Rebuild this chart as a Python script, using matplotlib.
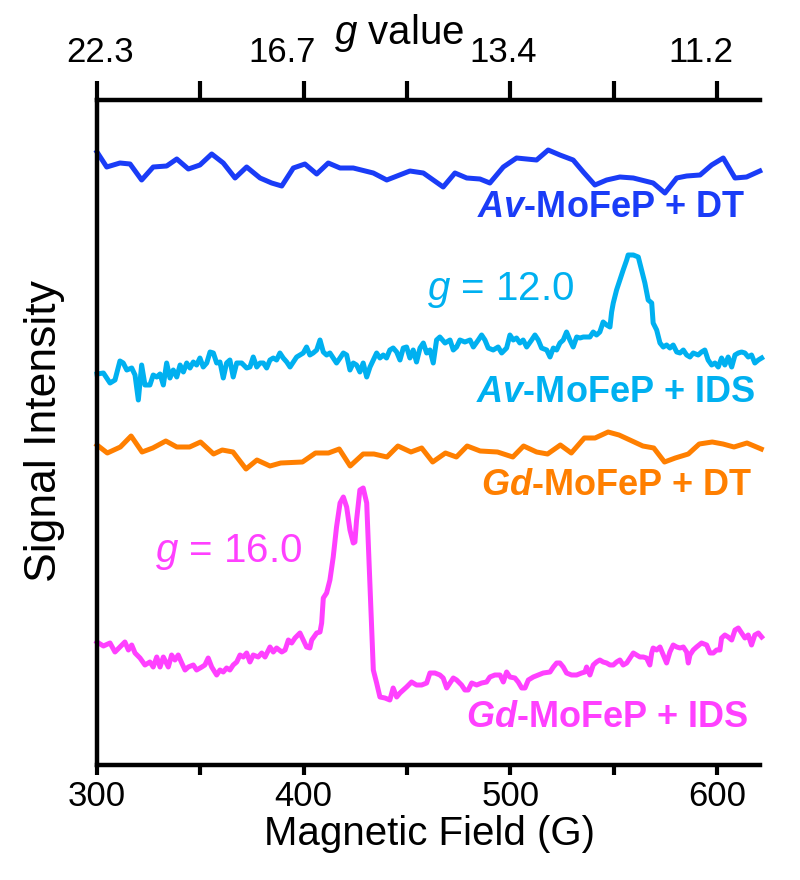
import matplotlib
matplotlib.use("Agg")
import matplotlib.pyplot as plt
import matplotlib.transforms as mtransforms

plt.rcParams["font.family"] = ["Liberation Sans", "DejaVu Sans"]
plt.rcParams["mathtext.fontset"] = "custom"
plt.rcParams["mathtext.rm"] = "Liberation Sans"
plt.rcParams["mathtext.it"] = "Liberation Sans:italic"
plt.rcParams["mathtext.bf"] = "Liberation Sans:italic:bold"

# Av-MoFeP + DT (blue)
field_av_dt = [300.0, 304.7, 311.1, 316.0, 321.6, 327.2, 333.7, 338.6, 344.2, 349.8,
               355.5, 361.1, 366.8, 372.4, 378.9, 384.5, 389.4, 395.0, 400.6, 406.3,
               411.9, 417.6, 424.0, 433.7, 440.2, 451.4, 457.9, 467.5, 473.2, 478.9,
               485.3, 490.1, 496.6, 503.0, 512.7, 518.3, 524.0, 530.4, 535.3, 540.9,
               546.6, 553.0, 559.5, 569.1, 574.8, 580.5, 585.3, 591.8, 597.4, 603.0,
               608.7, 614.3, 620.7]
signal_av_dt = [613, 598, 602, 601, 585, 598, 599, 606, 596, 600,
                611, 602, 587, 598, 587, 582, 579, 597, 601, 591,
                602, 597, 597, 592, 585, 594, 592, 578, 592, 587,
                586, 582, 598, 607, 605, 615, 610, 605, 593, 580,
                585, 588, 587, 582, 572, 587, 589, 590, 600, 607,
                587, 588, 594]

# Av-MoFeP + IDS (light blue)
field_av_ids = [300.0, 303.1, 306.3, 308.7, 311.1, 312.7, 314.4, 316.8, 318.4, 320.0,
                321.6, 323.2, 325.6, 327.2, 328.9, 330.5, 332.1, 333.7, 335.3, 336.9,
                338.6, 340.2, 341.8, 343.4, 345.0, 346.6, 348.2, 349.8, 351.4, 353.1,
                354.7, 356.3, 357.9, 359.5, 361.1, 362.7, 364.3, 365.9, 367.6, 370.0,
                372.4, 374.0, 375.6, 377.3, 378.9, 380.5, 382.1, 383.7, 385.3, 386.9,
                388.5, 390.1, 391.8, 393.4, 395.0, 396.6, 398.2, 399.8, 401.4, 403.0,
                404.6, 406.3, 407.9, 409.5, 411.1, 412.7, 414.3, 415.9, 417.6, 419.2,
                420.8, 422.4, 424.0, 425.6, 427.2, 428.8, 430.5, 432.1, 433.7, 435.3,
                436.9, 438.5, 440.1, 441.7, 443.3, 445.0, 446.6, 448.2, 449.8, 451.4,
                453.0, 454.6, 456.3, 457.9, 459.5, 461.1, 462.7, 464.3, 465.9, 468.4,
                470.8, 472.4, 474.0, 475.6, 478.0, 480.5, 482.1, 484.5, 486.1, 487.7,
                489.3, 491.7, 494.1, 495.8, 498.2, 499.8, 501.4, 503.0, 504.6, 506.2,
                507.9, 510.3, 511.9, 513.5, 515.1, 517.6, 519.2, 520.8, 522.4, 524.0,
                525.6, 527.2, 528.8, 530.4, 532.1, 533.7, 535.3, 536.9, 538.5, 540.1,
                541.7, 543.3, 544.9, 546.6, 548.2, 549.0, 549.8, 551.4, 553.0, 554.6,
                556.3, 557.0, 559.5, 561.9, 563.5, 565.1, 566.7, 568.4, 569.1, 570.8,
                572.4, 574.0, 575.6, 577.2, 578.8, 580.5, 582.1, 583.7, 585.3, 586.9,
                588.5, 590.9, 592.5, 594.1, 595.7, 597.4, 599.0, 600.6, 602.2, 603.8,
                605.4, 607.1, 608.7, 610.3, 611.9, 613.5, 615.1, 616.7, 618.3, 620.0,
                621.6]
signal_av_ids = [391, 392, 382, 385, 404, 402, 395, 397, 390, 365,
                 400, 380, 380, 390, 388, 391, 380, 402, 387, 395,
                 388, 400, 393, 402, 397, 403, 400, 407, 398, 402,
                 413, 412, 402, 403, 387, 402, 405, 388, 402, 402,
                 397, 398, 408, 398, 402, 402, 397, 405, 407, 405,
                 412, 407, 403, 398, 403, 408, 410, 412, 418, 410,
                 412, 415, 425, 413, 410, 412, 407, 402, 407, 412,
                 410, 395, 402, 400, 393, 402, 388, 398, 405, 412,
                 407, 410, 407, 415, 417, 413, 405, 417, 418, 407,
                 415, 403, 417, 422, 412, 415, 402, 425, 428, 422,
                 425, 415, 418, 425, 423, 425, 418, 425, 430, 425,
                 417, 415, 418, 412, 417, 430, 425, 427, 422, 425,
                 418, 425, 430, 425, 417, 415, 408, 417, 415, 422,
                 425, 433, 425, 418, 428, 427, 428, 428, 428, 433,
                 430, 433, 443, 440, 438, 453, 462, 475, 485, 495,
                 505, 510, 510, 508, 495, 482, 465, 462, 442, 435,
                 422, 418, 420, 417, 420, 413, 412, 415, 410, 408,
                 412, 410, 413, 415, 405, 400, 402, 398, 407, 400,
                 408, 398, 410, 412, 413, 412, 408, 410, 402, 405,
                 407]

# Gd-MoFeP + DT (orange)
field_gd_dt = [300.0, 305.0, 311.3, 316.5, 321.8, 327.0, 333.3, 338.6, 344.8, 350.1,
               356.4, 360.6, 365.8, 372.1, 377.4, 383.7, 388.9, 399.4, 405.7, 412.0,
               417.2, 422.5, 428.8, 434.0, 440.3, 445.6, 451.9, 457.1, 462.4, 468.6,
               473.9, 479.1, 485.4, 493.8, 501.2, 506.4, 512.7, 518.0, 524.2, 529.5,
               535.8, 541.0, 547.3, 552.6, 558.9, 564.1, 569.4, 574.6, 579.8, 586.1,
               591.4, 597.7, 602.9, 608.2, 614.5, 621.4]
signal_gd_dt = [320, 312, 318, 329, 313, 317, 324, 318, 318, 323,
                311, 315, 313, 296, 305, 299, 302, 303, 312, 312,
                316, 299, 311, 311, 308, 319, 313, 317, 303, 312,
                308, 319, 314, 313, 308, 319, 313, 311, 320, 312,
                327, 327, 333, 330, 324, 319, 317, 303, 307, 311,
                321, 323, 321, 318, 322, 316]

# Gd-MoFeP + IDS (magenta)
field_gd_ids = [300.0, 303.1, 306.3, 308.7, 311.1, 313.5, 315.2, 316.8, 318.4, 320.8,
                323.2, 325.6, 327.2, 328.9, 330.5, 332.1, 334.5, 336.1, 337.7, 339.3,
                341.0, 342.6, 344.2, 346.6, 348.2, 350.7, 352.2, 353.8, 355.5, 357.9,
                359.5, 361.1, 362.7, 364.3, 365.9, 367.6, 369.2, 370.8, 372.4, 374.0,
                375.6, 378.0, 379.7, 381.3, 383.7, 385.3, 386.9, 389.4, 391.0, 392.6,
                394.2, 395.8, 398.2, 399.8, 401.4, 403.0, 403.9, 406.3, 407.9, 408.7,
                409.5, 411.1, 412.7, 414.3, 415.9, 417.6, 419.2, 420.8, 422.4, 424.0,
                424.8, 425.6, 427.2, 428.8, 430.5, 432.1, 433.7, 435.3, 436.9, 439.3,
                441.7, 443.3, 445.0, 446.6, 448.2, 449.8, 452.2, 454.6, 457.1, 459.5,
                461.1, 463.5, 465.9, 467.5, 469.2, 470.8, 472.4, 474.0, 476.4, 478.0,
                479.6, 481.3, 483.7, 486.1, 488.5, 490.1, 492.5, 495.0, 496.6, 498.2,
                499.8, 502.2, 503.8, 505.5, 507.1, 508.7, 511.1, 513.5, 515.9, 519.2,
                520.8, 522.4, 524.0, 525.6, 527.2, 529.6, 532.1, 534.5, 536.1, 536.9,
                538.5, 540.1, 541.7, 543.3, 544.9, 546.6, 548.2, 549.8, 551.4, 553.0,
                554.6, 556.3, 557.9, 559.5, 561.1, 562.7, 564.3, 565.9, 567.5, 568.4,
                569.1, 570.8, 572.4, 574.0, 575.6, 577.2, 578.8, 580.5, 582.1, 583.7,
                585.3, 586.1, 586.9, 588.5, 590.1, 592.5, 595.0, 596.6, 598.2, 599.8,
                601.4, 602.2, 603.8, 605.4, 607.1, 608.7, 610.3, 611.9, 613.5, 615.1,
                616.7, 618.3, 620.0, 621.6]
signal_gd_ids = [123, 119, 122, 113, 118, 123, 115, 120, 112, 107,
                 100, 103, 98, 108, 98, 108, 98, 110, 105, 110,
                 102, 95, 98, 100, 95, 98, 100, 107, 98, 90,
                 95, 93, 97, 95, 100, 103, 110, 108, 112, 103,
                 110, 108, 112, 108, 118, 113, 117, 113, 115, 125,
                 122, 127, 132, 125, 118, 117, 125, 132, 133, 142,
                 167, 172, 185, 208, 238, 262, 268, 258, 235, 222,
                 223, 245, 275, 277, 262, 178, 95, 82, 68, 67,
                 65, 77, 68, 72, 75, 78, 83, 80, 80, 82,
                 92, 92, 90, 87, 77, 82, 87, 85, 80, 75,
                 75, 82, 80, 82, 83, 88, 90, 90, 83, 93,
                 88, 87, 83, 77, 77, 85, 88, 90, 92, 93,
                 98, 102, 102, 98, 92, 90, 90, 92, 93, 98,
                 90, 100, 103, 105, 103, 102, 100, 100, 103, 105,
                 100, 102, 107, 112, 110, 108, 108, 107, 100, 112,
                 117, 115, 118, 110, 102, 113, 120, 118, 117, 118,
                 113, 102, 110, 115, 118, 122, 120, 112, 112, 115,
                 115, 127, 130, 128, 125, 135, 137, 132, 127, 130,
                 120, 130, 132, 128]

field_ticks = [300, 350, 400, 450, 500, 550, 600]
field_labels = ["300", "", "400", "", "500", "", "600"]
g_labels = ["22.3", "", "16.7", "", "13.4", "", "11.2"]

blue = "#1a3cf7"
cyan = "#00b0f0"
orange = "#ff7f00"
magenta = "#ff40ff"

fig = plt.figure(figsize=(8, 8.8), dpi=100)
ax = fig.add_axes([97 / 800, 1 - 765 / 880, 663 / 800, 665 / 880])

lw = 3.6
ax.plot(field_av_dt, signal_av_dt, color=blue, lw=lw, clip_on=False)
ax.plot(field_av_ids, signal_av_ids, color=cyan, lw=lw, clip_on=False)
ax.plot(field_gd_dt, signal_gd_dt, color=orange, lw=lw, clip_on=False)
ax.plot(field_gd_ids, signal_gd_ids, color=magenta, lw=lw, clip_on=False)

ax.set_xlim(300, 620.8)
ax.set_ylim(0, 665)
ax.set_yticks([])
ax.set_xticks(field_ticks, labels=field_labels)
ax.tick_params(axis="x", direction="out", length=7, width=3, pad=4, labelsize=25)
ax.spines["right"].set_visible(False)
ax.spines["top"].set_visible(False)
for s in ["left", "bottom"]:
    ax.spines[s].set_linewidth(3.2)

secax = ax.secondary_xaxis("top")
secax.set_xticks(field_ticks, labels=g_labels)
secax.tick_params(direction="out", length=14, width=3, pad=8, labelsize=25)
secax.spines["top"].set_linewidth(3.2)
# the g labels sit a little off their ticks in the original
label_shift_px = [3, 0, -22, 0, -7, 0, -16]
for lab, dx in zip(secax.get_xticklabels(), label_shift_px):
    lab.set_transform(lab.get_transform() +
                      mtransforms.ScaledTranslation(dx / 100, 0, fig.dpi_scale_trans))

ax.set_xlabel("Magnetic Field (G)", fontsize=29)
ax.xaxis.set_label_coords(0.502, -0.075)
ax.set_ylabel("Signal Intensity", fontsize=32)
ax.yaxis.set_label_coords(-0.048, 0.502)
fig.text(399 / 800, 1 - 44 / 880, "$g$ value", ha="center", va="baseline", fontsize=29)

# trace labels
ax.text(613.5, 548, r"$\mathbf{Av}$-MoFeP + DT", color=blue, fontsize=26,
        fontweight="bold", ha="right", va="baseline")
ax.text(618.8, 363, r"$\mathbf{Av}$-MoFeP + IDS", color=cyan, fontsize=26,
        fontweight="bold", ha="right", va="baseline")
ax.text(617.4, 270, r"$\mathbf{Gd}$-MoFeP + DT", color=orange, fontsize=26,
        fontweight="bold", ha="right", va="baseline")
ax.text(615.4, 38, r"$\mathbf{Gd}$-MoFeP + IDS", color=magenta, fontsize=26,
        fontweight="bold", ha="right", va="baseline")

ax.text(459.7, 465, "$g$ = 12.0", color=cyan, fontsize=29, ha="left", va="baseline")
ax.text(328, 203, "$g$ = 16.0", color=magenta, fontsize=29, ha="left", va="baseline")

fig.savefig("out.png", dpi=100)
